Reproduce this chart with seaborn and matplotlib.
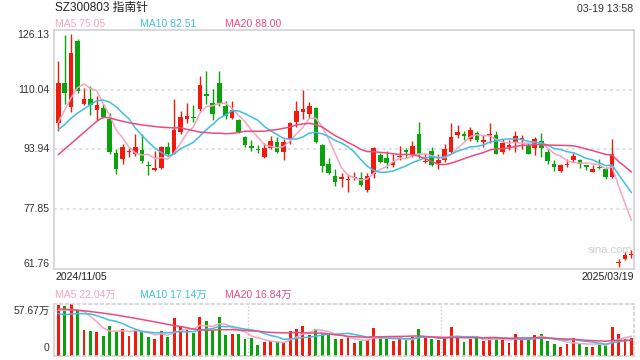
import numpy as np
import pandas as pd
import matplotlib
matplotlib.use('Agg')
import matplotlib.pyplot as plt
import seaborn as sns

# 日K 2024/11/05 - 2025/03/19
opens = [100.93, 111.83, 105.40, 123.18, 106.20, 107.55, 104.42, 105.13, 102.00, 93.07,
         91.28, 93.10, 92.62, 93.78, 89.58, 88.51, 89.05, 94.68, 92.80, 98.70,
         102.00, 102.72, 104.69, 108.90, 106.47, 111.83, 105.58, 102.27, 101.83, 97.36,
         94.94, 94.14, 91.99, 94.41, 95.93, 93.34, 96.64, 101.38, 103.97, 103.35,
         105.13, 95.03, 90.12, 86.81, 85.92, 85.65, 86.19, 86.19, 82.97, 87.26,
         92.53, 91.73, 89.76, 91.91, 93.60, 92.44, 98.16, 90.48, 93.51, 90.39,
         91.01, 93.34, 97.72, 97.89, 96.64, 98.34, 95.84, 97.80, 97.80, 93.25,
         94.77, 95.75, 96.73, 95.12, 94.23, 96.20, 93.34, 90.12, 88.15, 89.85,
         91.01, 91.10, 89.67, 87.97, 89.32, 88.69, 86.63, 63.40, 64.47, 65.54]
closes = [111.83, 109.16, 119.88, 109.60, 107.37, 105.76, 105.85, 102.72, 93.34, 88.60,
          94.68, 93.40, 94.68, 90.83, 89.40, 89.05, 94.68, 92.62, 99.15, 102.63,
          102.90, 102.54, 111.21, 108.26, 103.35, 106.03, 102.90, 104.42, 98.70, 95.12,
          94.23, 93.69, 94.41, 96.20, 93.34, 95.93, 101.11, 104.24, 104.69, 105.58,
          96.02, 89.49, 87.71, 85.20, 86.54, 85.83, 86.37, 84.31, 86.90, 94.41,
          90.66, 90.39, 90.57, 92.09, 93.43, 94.86, 92.62, 90.66, 89.67, 91.10,
          94.14, 97.27, 98.70, 97.72, 99.15, 96.38, 96.46, 98.16, 92.80, 95.75,
          94.94, 97.54, 96.91, 92.80, 96.82, 94.23, 90.83, 89.23, 89.76, 90.03,
          92.26, 89.94, 89.23, 88.78, 88.87, 86.63, 92.62, 63.58, 65.54, 65.72]
highs = [117.64, 124.79, 124.97, 123.72, 110.50, 110.94, 108.26, 106.47, 103.79, 93.96,
         95.48, 94.41, 98.16, 97.98, 90.83, 93.51, 94.86, 95.93, 107.37, 104.24,
         106.47, 105.85, 113.62, 114.96, 110.05, 114.96, 106.92, 106.92, 102.00, 97.54,
         96.46, 95.12, 95.75, 97.54, 97.27, 96.64, 101.38, 106.92, 109.96, 106.74,
         105.40, 95.30, 91.73, 88.78, 87.71, 87.26, 87.97, 87.97, 87.71, 94.68,
         93.07, 93.51, 92.80, 94.86, 94.41, 96.20, 101.29, 92.62, 94.68, 92.80,
         95.48, 100.93, 100.49, 98.88, 99.95, 98.88, 97.72, 100.93, 98.88, 96.64,
         96.38, 98.88, 97.80, 95.75, 97.27, 98.43, 93.96, 91.01, 90.12, 91.46,
         93.07, 91.46, 89.76, 89.76, 91.28, 89.23, 96.82, 64.47, 66.26, 66.88]
lows = [98.88, 106.03, 104.06, 109.15, 105.85, 103.17, 101.56, 102.27, 92.80, 87.26,
        89.94, 91.99, 92.17, 90.39, 86.99, 88.15, 88.60, 92.17, 92.62, 97.98,
        101.11, 101.38, 104.24, 106.03, 101.74, 105.58, 102.00, 102.00, 98.43, 94.59,
        93.52, 93.07, 91.73, 94.14, 93.07, 91.01, 95.30, 99.95, 102.00, 102.45,
        95.75, 87.89, 87.26, 84.13, 83.86, 82.52, 85.65, 84.13, 82.52, 86.37,
        90.39, 89.05, 89.23, 91.01, 91.73, 91.99, 91.55, 90.39, 89.49, 88.60,
        90.66, 93.07, 97.09, 96.38, 96.20, 96.02, 94.59, 95.75, 92.62, 92.62,
        93.69, 93.34, 93.96, 92.62, 92.44, 91.91, 90.12, 88.15, 87.97, 89.23,
        90.66, 89.05, 88.42, 87.89, 88.60, 85.92, 86.37, 62.42, 64.20, 64.74]
# 成交量 (万)
volumes = [56.5, 55.4, 57.67, 50.9, 28.6, 27.5, 26.4, 22.7, 33.8, 27.1,
           30.5, 21.9, 28.6, 27.5, 21.2, 18.6, 27.5, 20.8, 42.0, 32.0,
           28.6, 25.3, 43.1, 38.7, 29.4, 43.1, 23.0, 24.2, 24.9, 19.3,
           19.7, 12.6, 15.2, 16.3, 15.2, 15.2, 27.5, 30.5, 33.8, 23.8,
           30.5, 24.9, 23.0, 18.6, 18.6, 21.2, 14.8, 16.3, 17.5, 31.6,
           19.7, 18.6, 16.3, 18.6, 17.5, 20.8, 30.5, 19.7, 18.6, 17.5,
           19.7, 32.7, 21.5, 15.2, 18.6, 19.7, 16.3, 21.5, 18.6, 17.5,
           14.1, 24.9, 17.5, 18.6, 23.8, 24.9, 17.1, 13.0, 9.6, 13.0,
           20.4, 14.1, 9.6, 9.6, 12.6, 12.6, 32.7, 24.9, 19.3, 20.4]

# MA values at the start of the window (they depend on earlier days)
ma5_head = [101.2, 104.5, 107.8, 110.5]
ma10_head = [99.2, 100.6, 102.3, 103.7, 104.8, 106.0, 107.0, 107.2, 106.6]
ma20_head = [92.5, 94.0, 95.5, 97.0, 98.5, 100.0, 101.5, 102.6, 102.4, 101.9,
             101.5, 101.1, 100.8, 100.5, 100.3, 100.1, 99.9, 99.8, 99.7]
vma5_head = [50.9, 50.9, 51.7, 50.9]
vma10_head = [47.2, 46.1, 46.8, 47.2, 47.2, 46.8, 45.0, 42.4, 39.8]
vma20_head = [52.4, 52.0, 51.5, 51.0, 50.3, 49.5, 48.6, 47.7, 46.7, 45.6,
              44.4, 43.2, 41.9, 40.6, 39.3, 38.0, 36.6, 35.2, 33.9]

price_ticks = [126.13, 110.04, 93.94, 77.85, 61.76]
vol_max = 57.67
first_date, last_date = '2024/11/05', '2025/03/19'
ma_labels = ['MA5 75.05', 'MA10 82.51', 'MA20 88.00']
vma_labels = ['MA5 22.04万', 'MA10 17.14万', 'MA20 16.84万']

RED, GREEN = '#f21a0c', '#0ba30b'
MA_COLORS = ['#f7a3c1', '#3fbfe3', '#ea4c80']
GRID = '#dcdcdc'
BORDER = '#d2d2d2'


def moving_avg(values, n, head):
    s = pd.Series(values, dtype=float).rolling(n).mean()
    s.iloc[:n - 1] = head
    return s


df = pd.DataFrame({'open': opens, 'close': closes, 'high': highs,
                   'low': lows, 'vol': volumes})
df['idx'] = np.arange(len(df))
df['color'] = np.where(df.close >= df.open, RED, GREEN)
body_lo = np.minimum(df.open, df.close)
body_h = (df.close - df.open).abs()
thin = body_h < 0.3
body_lo = np.where(thin, (df.open + df.close) / 2 - 0.15, body_lo)
body_h = np.where(thin, 0.3, body_h)

sns.set_style('white')
plt.rcParams['font.family'] = ['Liberation Sans', 'Noto Sans CJK SC']

W, H = 640, 360
fig = plt.figure(figsize=(6.4, 3.6), dpi=100)
ax = fig.add_axes([54 / W, 1 - 269 / H, 580 / W, (269 - 29.7) / H])
axv = fig.add_axes([54 / W, 1 - 356 / H, 580 / W, 52 / H])

# price panel
for y in price_ticks[1:-1]:
    ax.axhline(y, color=GRID, lw=1.3, ls=(0, (1.5, 2)), zorder=0)
ax.vlines(df.idx, df.low, df.high, colors=df.color, lw=1, zorder=2)
ax.bar(df.idx, body_h, bottom=body_lo, width=0.72, color=df.color, lw=0, zorder=2)

for n, head, col in zip([5, 10, 20], [ma5_head, ma10_head, ma20_head], MA_COLORS):
    sns.lineplot(x=df.idx, y=moving_avg(closes, n, head), ax=ax, color=col,
                 lw=1.1, zorder=3)

ax.set_xlim(-0.65, 89.4)
ax.set_ylim(price_ticks[-1], price_ticks[0])
ax.set_xticks([])
ax.set_yticks([])
ax.set_xlabel('')
ax.set_ylabel('')
for s in ax.spines.values():
    s.set_color(BORDER)
    s.set_linewidth(1.2)

ytr = ax.get_yaxis_transform()
for k, y in enumerate(price_ticks):
    va = 'top' if k == 0 else ('bottom' if k == len(price_ticks) - 1 else 'center')
    ax.text(-0.008, y, f'{y:.2f}', transform=ytr, ha='right', va=va,
            fontsize=7.5, color='#333333')
ax.text(0.958, 0.08, 'sina.com', transform=ax.transAxes, ha='center', va='center',
        fontsize=8, color='#cfcfcf')

# volume panel
for x in [29.5, 59.5]:
    axv.axvline(x, color='#cccccc', lw=1, ls=(0, (1, 1.5)), zorder=0)
axv.bar(df.idx, df.vol, width=0.45, color=df.color, lw=0, zorder=2)
for n, head, col in zip([5, 10, 20], [vma5_head, vma10_head, vma20_head], MA_COLORS):
    sns.lineplot(x=df.idx, y=moving_avg(volumes, n, head), ax=axv, color=col,
                 lw=1.1, zorder=3)
axv.set_xlim(-0.65, 89.4)
axv.set_ylim(0, vol_max * 1.004)
axv.set_xticks([])
axv.set_yticks([])
axv.set_xlabel('')
axv.set_ylabel('')
for name, s in axv.spines.items():
    s.set_color(BORDER)
    s.set_linewidth(1.2)
    if name != 'left':
        s.set_linestyle((0, (1.5, 2)))
axv.text(-0.008, 0.87, f'{vol_max:.2f}万', transform=axv.transAxes, ha='right',
         va='center', fontsize=7.5, color='#333333')
axv.text(-0.008, 0.15, '0', transform=axv.transAxes, ha='right', va='center',
         fontsize=7.5, color='#333333')

# header and labels
def px(x, y):
    return x / W, 1 - y / H

fig.text(*px(55, 8.5), 'SZ300803 指南针', ha='left', va='center', fontsize=8.5, color='#222222')
fig.text(*px(633, 9), '03-19 13:58', ha='right', va='center', fontsize=7.6, color='#333333')
for x, lab, col in zip([55, 140.5, 225], ma_labels, MA_COLORS):
    fig.text(*px(x, 24), lab, ha='left', va='center', fontsize=7.5, color=col)
for x, lab, col in zip([55, 140, 225], vma_labels, MA_COLORS):
    fig.text(*px(x, 294.5), lab, ha='left', va='center', fontsize=7.5, color=col)
fig.text(*px(55, 277.5), first_date, ha='left', va='center', fontsize=7.6, color='#222222')
fig.text(*px(634, 277.5), last_date, ha='right', va='center', fontsize=7.6, color='#222222')

fig.savefig('out.png', dpi=100)
